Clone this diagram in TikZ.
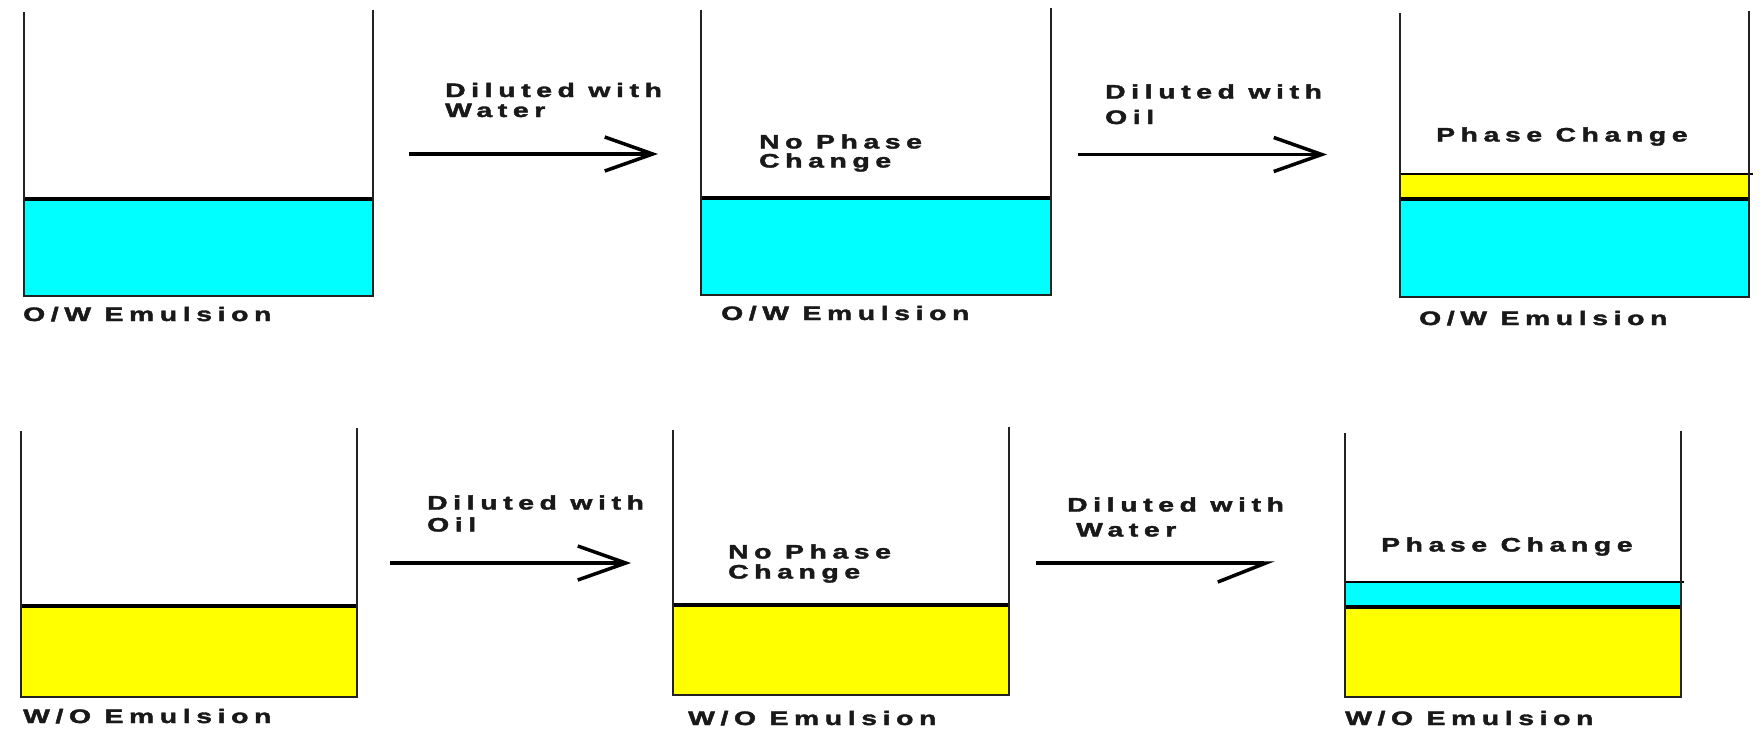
\documentclass[tikz,border=0pt]{standalone}
\usepackage{graphicx}
\usepackage{fontspec}
\setmainfont{Liberation Sans}
\newfontfamily\labelfont{Liberation Sans Bold}[LetterSpace=20,FakeBold=1.8]
\newcommand\wtext[1]{\scalebox{1.45}[1]{#1}}
\usetikzlibrary{arrows.meta}

\definecolor{waterc}{HTML}{00FFFF}
\definecolor{oilc}{HTML}{FFFF00}
\definecolor{wallc}{HTML}{222222}

\begin{document}
\begin{tikzpicture}[x=1pt,y=-1pt,
  wall/.style={draw=wallc, line width=2.4pt, line join=miter},
  surface/.style={draw=black, line width=4pt},
  film/.style={draw=black, line width=2.2pt},
  water/.style={fill=waterc},
  oil/.style={fill=oilc},
  txt/.style={font=\labelfont\fontsize{19.5}{22}\selectfont,
              inner sep=0pt, anchor=base west, text=black!90},
  flow/.style={line width=3.5pt, -{Straight Barb[length=48pt,width=34pt]}},
  flowhalf/.style={line width=3.5pt, -{Straight Barb[length=48pt,width=38pt,right]}}]
\useasboundingbox (0,0) rectangle (1761,729);

% ---------- top row: O/W emulsion ----------
% beaker 1
\fill[water] (24,199) rectangle (373,296);
\draw[surface] (24,199) -- (373,199);
\draw[wall] (24,12) -- (24,296) -- (373,296) -- (373,10);
\node[txt] (ow1) at (23,321) {\wtext{O/W Emulsion}};

% arrow 1
\coordinate (a1s) at (409,154);
\coordinate (a1e) at (658,154);
\draw[flow] (a1s) -- (a1e);
\node[txt] (a1t) at (445,97) {\wtext{Diluted with}};
\node[txt] (a1b) at (445,117) {\wtext{Water}};

% beaker 2
\fill[water] (701,198) rectangle (1051,295);
\draw[surface] (701,198) -- (1051,198);
\draw[wall] (701,10) -- (701,295) -- (1051,295) -- (1051,8);
\node[txt] (np1) at (759,148.5) {\wtext{No Phase}};
\node[txt] (np1b) at (759,167.5) {\wtext{Change}};
\node[txt] (ow2) at (721,320) {\wtext{O/W Emulsion}};

% arrow 2
\coordinate (a2s) at (1078,154.5);
\coordinate (a2e) at (1327,154.5);
\draw[flow] (a2s) -- (a2e);
\node[txt] (a2t) at (1105,98.5) {\wtext{Diluted with}};
\node[txt] (a2b) at (1105,124) {\wtext{Oil}};

% beaker 3
\fill[water] (1400,199) rectangle (1749,297);
\fill[oil] (1400,174) rectangle (1749,199);
\draw[film] (1400,174) -- (1753,174);
\draw[surface] (1400,199) -- (1749,199);
\draw[wall] (1400,13) -- (1400,297) -- (1749,297) -- (1749,11);
\node[txt] (pc1) at (1436,141.5) {\wtext{Phase Change}};
\node[txt] (ow3) at (1419,325) {\wtext{O/W Emulsion}};

% ---------- bottom row: W/O emulsion ----------
% beaker 4
\fill[oil] (21,606) rectangle (357,697);
\draw[surface] (21,606) -- (357,606);
\draw[wall] (21,431) -- (21,697) -- (357,697) -- (357,428);
\node[txt] (wo1) at (23,723) {\wtext{W/O Emulsion}};

% arrow 3
\coordinate (a3s) at (390,563);
\coordinate (a3e) at (631,563);
\draw[flow] (a3s) -- (a3e);
\node[txt] (a3t) at (427,509.5) {\wtext{Diluted with}};
\node[txt] (a3b) at (427,531.5) {\wtext{Oil}};

% beaker 5
\fill[oil] (673,605) rectangle (1009,695);
\draw[surface] (673,605) -- (1009,605);
\draw[wall] (673,430) -- (673,695) -- (1009,695) -- (1009,427);
\node[txt] (np2) at (728,558.5) {\wtext{No Phase}};
\node[txt] (np2b) at (728,578.5) {\wtext{Change}};
\node[txt] (wo2) at (688,725) {\wtext{W/O Emulsion}};

% arrow 4
\coordinate (a4s) at (1036,563);
\coordinate (a4e) at (1275,563);
\draw[flowhalf] (a4s) -- (a4e);
\node[txt] (a4t) at (1067,511.5) {\wtext{Diluted with}};
\node[txt] (a4b) at (1076,536.5) {\wtext{Water}};

% beaker 6
\fill[oil] (1345,607) rectangle (1681,697);
\fill[water] (1345,582) rectangle (1681,607);
\draw[film] (1345,582) -- (1684,582);
\draw[surface] (1345,607) -- (1681,607);
\draw[wall] (1345,433) -- (1345,697) -- (1681,697) -- (1681,431);
\node[txt] (pc2) at (1381,551.5) {\wtext{Phase Change}};
\node[txt] (wo3) at (1345,725) {\wtext{W/O Emulsion}};
\end{tikzpicture}
\end{document}
